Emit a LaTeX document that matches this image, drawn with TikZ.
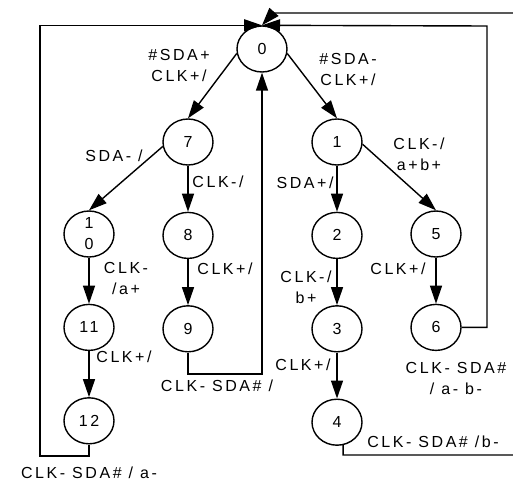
\documentclass[tikz,border=0pt]{standalone}
\usepackage{fontspec}
\setmainfont[LetterSpace=16]{Liberation Sans}
\usepackage{tikz}
\usetikzlibrary{shapes.geometric, arrows.meta, positioning}

\begin{document}
\begin{tikzpicture}[
    x=1pt, y=-1pt,
    node distance=46pt,
    state/.style={ellipse, draw, line width=1.4pt, minimum width=50pt, minimum height=46pt, inner sep=0pt, align=center, font=\fontsize{16}{21}\selectfont},
    arrow/.style={-{Triangle[length=18pt, width=12pt]}, line width=1.4pt},
    lbl/.style={font=\fontsize{16}{21}\selectfont, align=center, inner sep=0pt},
]
\useasboundingbox (0,0) rectangle (513,484);

% states
\node[state] (s0) at (262,49) {0};
\node[state] (s7) at (188,142) {7};
\node[state] (s1) at (337,142) {1};
\node[state] (s10) at (89,234) {1\\0};
\node[state, below=of s10] (s11) {11};
\node[state, below=of s11] (s12) {12};
\node[state, below=of s7] (s8) {8};
\node[state, below=of s8] (s9) {9};
\node[state, below=of s1] (s2) {2};
\node[state, below=of s2] (s3) {3};
\node[state, below=of s3] (s4) {4};
\node[state] (s5) at (436,234) {5};
\node[state, below=of s5] (s6) {6};

% corners of the return lines
\coordinate (cl) at (40,456);
\coordinate (cm) at (262,374);
\coordinate (cr) at (487,26);
\coordinate (cb) at (516,455);
\coordinate (ct) at (273,13);

\draw[arrow] (s0.190) -- (s7.north);
\draw[arrow] (s0.-10) -- (s1.north);
\draw[arrow] (s7.190) -- (s10.north);
\draw[arrow] (s7) -- (s8);
\draw[arrow] (s1) -- (s2);
\draw[arrow] (s1.-5) -- (s5.north);
\draw[arrow] (s10) -- (s11);
\draw[arrow] (s11) -- (s12);
\draw[arrow] (s8) -- (s9);
\draw[arrow] (s2) -- (s3);
\draw[arrow] (s3) -- (s4);
\draw[arrow] (s5) -- (s6);

\draw[arrow] (s12.south) |- (cl) |- (s0.north);
\draw[arrow] (s9.south) |- (cm) -- (s0.south);
\draw[arrow] (s6.east) -| (cr) -- (s0.north);
\draw[arrow] (s4.-75) |- (cb) |- (ct) -- (s0.north);

% transition labels
\node[lbl] (l07) at (179,65) {\#SDA+\\CLK+/};
\node[lbl] (l01) at (348,69) {\#SDA-\\CLK+/};
\node[lbl] (l710) at (114,156) {SDA- /};
\node[lbl] (l78) at (218,182) {CLK-/};
\node[lbl] (l15) at (419,154) {CLK-/\\a+b+};
\node[lbl] (l12) at (305,183) {SDA+/};
\node[lbl] (l1011) at (126,278) {CLK-\\/a+};
\node[lbl] (l89) at (225,269) {CLK+/};
\node[lbl] (l1112) at (124,357) {CLK+/};
\node[lbl] (l90) at (217,386) {CLK- SDA\# /};
\node[lbl] (l23) at (306,287) {CLK-/\\b+};
\node[lbl] (l56) at (398,269) {CLK+/};
\node[lbl] (l34) at (303,365) {CLK+/};
\node[lbl] (l60) at (456,378) {CLK- SDA\#\\/ a- b-};
\node[lbl] (l40) at (433,442) {CLK- SDA\# /b-};
\node[lbl] (l120) at (89,473) {CLK- SDA\# / a-};

\end{tikzpicture}
\end{document}
